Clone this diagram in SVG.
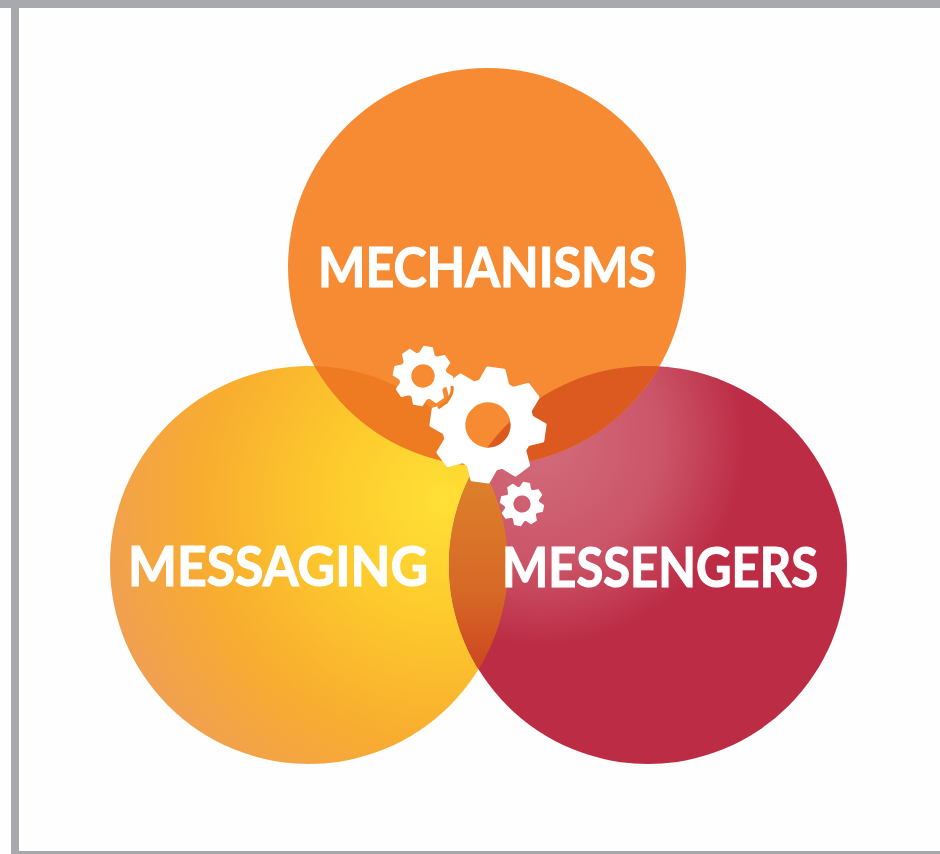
<svg xmlns="http://www.w3.org/2000/svg" width="940" height="854" viewBox="0 0 940 854">
<style>
.label{font-family:"Lato","Liberation Sans",sans-serif;font-weight:700;font-size:55px;fill:#fff;stroke:#fff;stroke-width:1.2px}
.tooth{fill:#fff;stroke:#fff;stroke-width:6;stroke-linejoin:round}
</style>
<defs>
<radialGradient id="gMsg" gradientUnits="userSpaceOnUse" cx="445" cy="500" r="345">
<stop offset="0" stop-color="#FFE036"/><stop offset=".35" stop-color="#FDC92C"/><stop offset=".72" stop-color="#F8AC30"/><stop offset="1" stop-color="#F1A050"/>
</radialGradient>
<radialGradient id="gMgr" gradientUnits="userSpaceOnUse" cx="540" cy="440" r="205">
<stop offset="0" stop-color="#D26C7C"/><stop offset=".6" stop-color="#CB5568"/><stop offset="1" stop-color="#BC2C45"/>
</radialGradient>
<linearGradient id="gLens" gradientUnits="userSpaceOnUse" x1="480" y1="490" x2="480" y2="660">
<stop offset="0" stop-color="#DC7E2A"/><stop offset=".6" stop-color="#D76826"/><stop offset="1" stop-color="#CE4A20"/>
</linearGradient>
<clipPath id="cMech"><circle cx="487" cy="267" r="199"/></clipPath>
<clipPath id="cMsg"><circle cx="309" cy="565" r="199"/></clipPath>
<path id="t" class="tooth" d="M-24 -72L-14 -97L14 -97L24 -72Z"/>
<g id="gearShape">
<circle r="59" fill="none" stroke="#fff" stroke-width="40"/>
<use href="#t"/><use href="#t" transform="rotate(45)"/><use href="#t" transform="rotate(90)"/><use href="#t" transform="rotate(135)"/>
<use href="#t" transform="rotate(180)"/><use href="#t" transform="rotate(225)"/><use href="#t" transform="rotate(270)"/><use href="#t" transform="rotate(315)"/>
</g>
</defs>
<rect width="940" height="854" fill="#fefefe"/>
<g id="frame" fill="#A7A9AC">
<rect x="0" y="0" width="940" height="8"/>
<rect x="11" y="0" width="8" height="854"/>
<rect x="11" y="851" width="929" height="3"/>
</g>
<g id="messaging"><circle cx="309" cy="565" r="199" fill="url(#gMsg)"/></g>
<g id="messengers"><circle cx="648" cy="565" r="199" fill="url(#gMgr)"/></g>
<g id="mechanisms"><circle cx="487" cy="267" r="199" fill="#F68B33"/></g>
<g id="overlaps">
<circle cx="648" cy="565" r="199" fill="url(#gLens)" clip-path="url(#cMsg)"/>
<circle cx="309" cy="565" r="199" fill="#EE7A22" clip-path="url(#cMech)"/>
<circle cx="648" cy="565" r="199" fill="#DC5A20" clip-path="url(#cMech)"/>
</g>
<g id="gears">
<use id="gear-top" href="#gearShape" transform="translate(423 376) rotate(10) scale(.3)"/>
<use id="gear-large" href="#gearShape" transform="translate(488 425) rotate(8) scale(.58)"/>
<path d="M452 386Q454 398 438 408" fill="none" stroke="#F0801F" stroke-width="3"/>
<use id="gear-small" href="#gearShape" transform="translate(522 504) rotate(12) scale(.22)"/>
</g>
<g id="labels">
<text class="label" x="318" y="287" textLength="338" lengthAdjust="spacingAndGlyphs">MECHANISMS</text>
<text class="label" x="128" y="586" textLength="300" lengthAdjust="spacingAndGlyphs">MESSAGING</text>
<text class="label" x="502" y="587" textLength="316" lengthAdjust="spacingAndGlyphs">MESSENGERS</text>
</g>
</svg>
